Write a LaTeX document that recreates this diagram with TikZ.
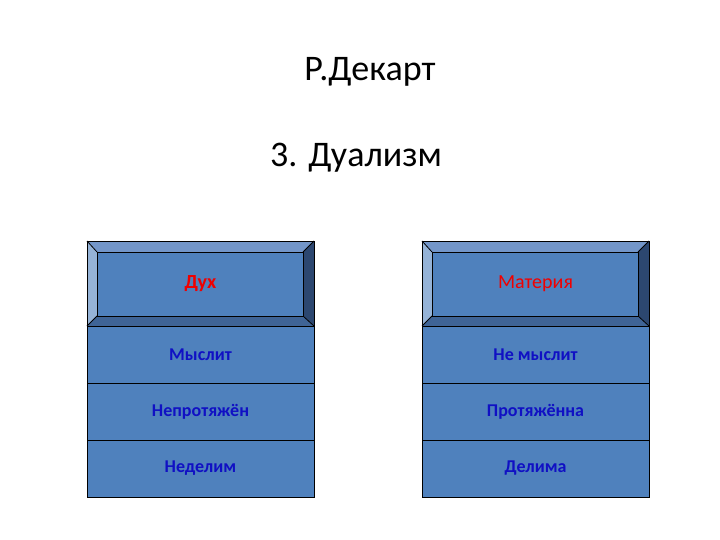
\documentclass[tikz,border=0pt]{standalone}
\usepackage{fontspec}
\setmainfont{Carlito}
\usetikzlibrary{positioning}

\definecolor{facecol}{HTML}{4F81BD}
\definecolor{toplit}{HTML}{7396C9}
\definecolor{leftlit}{HTML}{95B3D7}
\definecolor{rightdk}{HTML}{2C4770}
\definecolor{botdk}{HTML}{3F6496}
\definecolor{rowtext}{HTML}{1010C4}
\definecolor{hdrtext}{HTML}{F00000}

% bevelled frame round a header node
\newcommand{\bevelframe}[1]{%
  \coordinate (#1-inw) at ([shift={(10pt,-11pt)}]#1.north west);
  \coordinate (#1-ine) at ([shift={(-11pt,-11pt)}]#1.north east);
  \coordinate (#1-ise) at ([shift={(-11pt,10pt)}]#1.south east);
  \coordinate (#1-isw) at ([shift={(10pt,10pt)}]#1.south west);
  \fill[toplit] (#1.north west) -- (#1.north east) -- (#1-ine) -- (#1-inw) -- cycle;
  \fill[leftlit] (#1.north west) -- (#1-inw) -- (#1-isw) -- (#1.south west) -- cycle;
  \fill[rightdk] (#1.north east) -- (#1.south east) -- (#1-ise) -- (#1-ine) -- cycle;
  \fill[botdk] (#1.south west) -- (#1-isw) -- (#1-ise) -- (#1.south east) -- cycle;
  \draw[edge] (#1-inw) rectangle (#1-ise);
  \draw[edge] (#1.north west) -- (#1-inw) (#1.north east) -- (#1-ine)
    (#1.south east) -- (#1-ise) (#1.south west) -- (#1-isw);
  \draw[edge] (#1.north west) rectangle (#1.south east);
}

\begin{document}
\begin{tikzpicture}[
  x=1pt,y=-1pt,
  node distance=0pt,
  edge/.style={draw=black,line width=0.8pt},
  title/.style={font=\fontsize{36}{43}\selectfont,inner sep=0pt},
  hdr/.style={fill=facecol,minimum width=227pt,minimum height=85pt,
    inner sep=0pt,outer sep=0pt,text=hdrtext,font=\fontsize{20}{24}\selectfont},
  row/.style={edge,fill=facecol,minimum width=227pt,minimum height=57pt,
    inner sep=0pt,outer sep=0pt,text=rowtext,font=\fontsize{18}{22}\selectfont\bfseries}
]
\useasboundingbox[fill=white] (0,0) rectangle (720,540);

\node[title] (author) at (370,72) {Р.Декарт};
\node[title] (topic) at (356,158) {3. Дуализм};

% left column
\node[hdr] (spirit) at (200.5,283.5) {};
\bevelframe{spirit}
\node[hdr,fill=none,font=\fontsize{20}{24}\selectfont\bfseries] at (spirit) {Дух};
\node[row,below=of spirit] (thinks) {Мыслит};
\node[row,below=of thinks] (unext) {Непротяжён};
\node[row,below=of unext] (indiv) {Неделим};

% right column
\node[hdr] (matter) at (535.5,283.5) {};
\bevelframe{matter}
\node[hdr,fill=none] at (matter) {Материя};
\node[row,below=of matter] (nothinks) {Не мыслит};
\node[row,below=of nothinks] (ext) {Протяжённа};
\node[row,below=of ext] (div) {Делима};
\end{tikzpicture}
\end{document}
